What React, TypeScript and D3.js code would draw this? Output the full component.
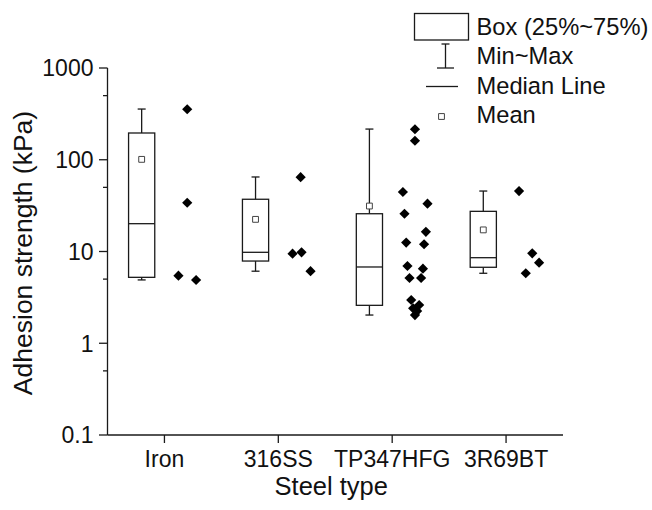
import React from "react";
import * as d3 from "d3";

const categories = ["Iron", "316SS", "TP347HFG", "3R69BT"];
const boxMin = [4.9, 6.1, 2.03, 5.79];
const boxQ1 = [5.23, 7.87, 2.59, 6.73];
const boxMedian = [20.1, 9.8, 6.78, 8.56];
const boxQ3 = [195.7, 37.1, 25.8, 27.4];
const boxMax = [357, 64.9, 216, 45.6];
const boxMean = [101, 22.4, 31.3, 17.2];

const pointValues = [
  [355, 34, 5.45, 4.89],
  [9.46, 64.5, 9.8, 6.1],
  [215, 161, 44.5, 33.2, 25.8, 16.4, 12.5, 12.0, 6.95, 6.5, 5.14, 5.14, 2.96, 2.61, 2.4, 2.24, 2.03],
  [45.6, 9.56, 7.55, 5.79],
];
// horizontal jitter of each point, in category units
const pointJitter = [
  [0.2, 0.2, 0.123, 0.278],
  [0.125, 0.196, 0.204, 0.283],
  [0.2, 0.2, 0.094, 0.31, 0.108, 0.296, 0.123, 0.28, 0.134, 0.27, 0.152, 0.254, 0.167, 0.237, 0.184, 0.219, 0.2],
  [0.114, 0.23, 0.29, 0.173],
];

const yTickValues = [0.1, 1, 10, 100, 1000];
const yTickLabels = ["0.1", "1", "10", "100", "1000"];
const yMinorTicks = [0.5, 5, 50, 500];
const legendLabels = ["Box (25%~75%)", "Min~Max", "Median Line", "Mean"];
const xTitle = "Steel type";
const yTitle = "Adhesion strength (kPa)";

const W = 652;
const H = 510;
const FONT = "'Liberation Sans', Arial, sans-serif";

export default function App() {
  const x = d3.scaleLinear().domain([0.5, 4.5]).range([107.5, 563]);
  const y = d3.scaleLog().domain([0.1, 1000]).range([435, 68]);
  const unit = x(1) - x(0);
  const boxOffset = -0.2;
  const boxHalf = 0.115 * unit;
  const capHalf = 4;
  const diamond = d3.symbol().type(d3.symbolSquare).size(52)();
  const meanSq = d3.symbol().type(d3.symbolSquare).size(34)();
  const stroke = "#1a1a1a";

  return (
    <svg width={W} height={H} style={{ position: "absolute", left: 0, top: 0, background: "#fff" }}>
      <rect x={0} y={0} width={W} height={H} fill="#fff" />
      {/* axes */}
      <line x1={x.range()[0]} x2={x.range()[0]} y1={y(1000)} y2={y(0.1)} stroke={stroke} strokeWidth={1.3} />
      <line x1={x.range()[0]} x2={x.range()[1]} y1={y(0.1)} y2={y(0.1)} stroke={stroke} strokeWidth={1.3} />
      {yTickValues.map((v, i) => (
        <g key={"yt" + i}>
          <line x1={x.range()[0] - 8.5} x2={x.range()[0]} y1={y(v)} y2={y(v)} stroke={stroke} strokeWidth={1.3} />
          <text x={x.range()[0] - 14} y={y(v)} dy="0.36em" textAnchor="end" fontFamily={FONT} fontSize={23} fill="#111">
            {yTickLabels[i]}
          </text>
        </g>
      ))}
      {yMinorTicks.map((v, i) => (
        <line key={"ym" + i} x1={x.range()[0] - 4.5} x2={x.range()[0]} y1={y(v)} y2={y(v)} stroke={stroke} strokeWidth={1.3} />
      ))}
      {categories.map((c, i) => (
        <g key={"xt" + i}>
          <line x1={x(i + 1)} x2={x(i + 1)} y1={y(0.1)} y2={y(0.1) + 8} stroke={stroke} strokeWidth={1.3} />
          <text x={x(i + 1)} y={466.5} textAnchor="middle" fontFamily={FONT} fontSize={23} fill="#111">
            {c}
          </text>
        </g>
      ))}
      <text x={(x.range()[0] + x.range()[1]) / 2 - 4} y={495} textAnchor="middle" fontFamily={FONT} fontSize={25.5} fill="#111">
        {xTitle}
      </text>
      <text
        transform={`translate(32,${253}) rotate(-90)`}
        textAnchor="middle"
        fontFamily={FONT}
        fontSize={26.5}
        fill="#111"
      >
        {yTitle}
      </text>

      {/* boxes */}
      {categories.map((c, i) => {
        const cx = x(i + 1 + boxOffset);
        return (
          <g key={"box" + i} stroke={stroke} strokeWidth={1.3} fill="none">
            <line x1={cx} x2={cx} y1={y(boxMax[i])} y2={y(boxQ3[i])} />
            <line x1={cx} x2={cx} y1={y(boxQ1[i])} y2={y(boxMin[i])} />
            <line x1={cx - capHalf} x2={cx + capHalf} y1={y(boxMax[i])} y2={y(boxMax[i])} />
            <line x1={cx - capHalf} x2={cx + capHalf} y1={y(boxMin[i])} y2={y(boxMin[i])} />
            <rect x={cx - boxHalf} y={y(boxQ3[i])} width={2 * boxHalf} height={y(boxQ1[i]) - y(boxQ3[i])} fill="#fff" />
            <line x1={cx - boxHalf} x2={cx + boxHalf} y1={y(boxMedian[i])} y2={y(boxMedian[i])} />
            <path d={meanSq} transform={`translate(${cx},${y(boxMean[i])})`} fill="#fff" stroke="#444" strokeWidth={1} />
          </g>
        );
      })}

      {/* points */}
      {pointValues.map((vals, i) =>
        vals.map((v, j) => (
          <path
            key={`p${i}-${j}`}
            d={diamond}
            transform={`translate(${x(i + 1 + pointJitter[i][j])},${y(v)}) rotate(45)`}
            fill="#000"
          />
        ))
      )}

      {/* legend */}
      <g stroke={stroke} strokeWidth={1.3} fill="none">
        <rect x={414.5} y={13.5} width={54} height={26.5} fill="#fff" />
        <line x1={445.5} x2={445.5} y1={44} y2={68} />
        <line x1={441.5} x2={449.5} y1={44} y2={44} />
        <line x1={437} x2={454} y1={68} y2={68} />
        <line x1={426} x2={458} y1={86.5} y2={86.5} />
        <path d={meanSq} transform="translate(441.5,116.5)" fill="#fff" stroke="#444" strokeWidth={1} />
      </g>
      {legendLabels.map((l, i) => (
        <text key={"lg" + i} x={476.5} y={[35, 64, 93.5, 122.5][i]} fontFamily={FONT} fontSize={23.7} fill="#111">
          {l}
        </text>
      ))}
    </svg>
  );
}
